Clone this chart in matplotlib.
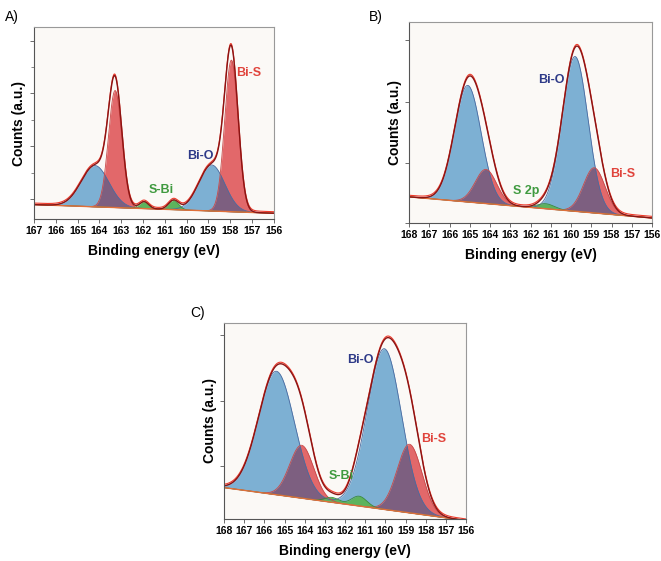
import numpy as np
from matplotlib import pyplot as plt

# peak parameters: centre (eV), height, FWHM (eV)
# panel A
a_xlim = (167, 156)
a_bg = (7.5, 3.0)            # background at left / right end
a_bios_c = [164.2, 158.85]; a_bios_h = [21.5, 24.0]; a_bios_w = [1.5, 1.4]
a_bis_c = [163.28, 157.95]; a_bis_h = [61.0, 79.0]; a_bis_w = [0.72, 0.72]
a_sbi_c = [161.95, 160.6]; a_sbi_h = [3.6, 4.8]; a_sbi_w = [0.5, 0.55]

# panel B
b_xlim = (168, 156)
b_bg = (13.0, 2.5)
b_bios_c = [165.1, 159.8]; b_bios_h = [58.0, 77.0]; b_bios_w = [1.55, 1.5]
b_bis_c = [164.2, 158.85]; b_bis_h = [17.0, 22.5]; b_bis_w = [1.25, 1.25]
b_sbi_c = [161.25]; b_sbi_h = [2.5]; b_sbi_w = [1.0]

# panel C
c_xlim = (168, 156)
c_bg = (16.0, -0.8)
c_bios_c = [165.4, 160.05]; c_bios_h = [63.0, 82.0]; c_bios_w = [2.1, 2.0]
c_bis_c = [164.15, 158.8]; c_bis_h = [27.0, 35.0]; c_bis_w = [1.4, 1.45]
c_sbi_c = [162.65, 161.3]; c_sbi_h = [2.5, 5.0]; c_sbi_w = [0.8, 0.9]

BLUE = '#7db0d3'
RED = '#e2686a'
PURP = '#7d5f80'
GREEN = '#5db35d'


def comp(x, cs, hs, ws):
    y = np.zeros_like(x)
    for c, h, w in zip(cs, hs, ws):
        s = w / 2.3548
        y += h * np.exp(-(x - c) ** 2 / (2 * s * s))
    return y


def panel(pos, xlim, bg, bios, bis, sbi, yticks, minor):
    ax = fig.add_axes(pos)
    x = np.linspace(xlim[0], xlim[1], 1200)
    base = bg[0] + (bg[1] - bg[0]) * (x - xlim[0]) / (xlim[1] - xlim[0])
    yb = comp(x, *bios)
    yr = comp(x, *bis)
    yg = comp(x, *sbi)
    ax.set_facecolor('#fbf9f6')
    ax.fill_between(x, base, base + yb, color=BLUE, lw=0)
    ax.fill_between(x, base, base + yr, color=RED, lw=0)
    ax.fill_between(x, base, base + np.minimum(yb, yr), color=PURP, lw=0)
    ax.fill_between(x, base, base + yg, color=GREEN, lw=0)
    ax.plot(x, base + yb, color='#4a6aa0', lw=0.6)
    ax.plot(x, base + yr, color='#c84848', lw=0.6)
    ax.plot(x, base + yg, color='#3a8a3a', lw=0.6)
    env = base + yb + yr + yg
    ax.plot(x, base, color='#e0703a', lw=1.0)
    ax.plot(x, env + 0.8, color='#ee3a2a', lw=0.8)
    ax.plot(x, env, color='#8a1414', lw=1.0)
    ax.set_xlim(xlim)
    ax.set_ylim(0, 100)
    ax.set_xticks(np.arange(xlim[1], xlim[0] + 1, 1))
    ax.set_xticklabels([str(v) for v in np.arange(xlim[1], xlim[0] + 1, 1)],
                       fontsize=7.5, fontweight='bold')
    ax.set_yticks(yticks)
    ax.set_yticklabels([])
    if minor:
        ax.set_yticks(minor, minor=True)
    ax.tick_params(axis='both', length=3, width=0.6, color='#555555', pad=2)
    ax.tick_params(axis='y', which='minor', length=2, width=0.5, color='#555555')
    for s in ax.spines.values():
        s.set_color('#999999')
        s.set_linewidth(0.8)
    ax.spines['left'].set_color('#555555')
    ax.spines['bottom'].set_color('#555555')
    ax.set_xlabel('Binding energy (eV)', fontsize=10, fontweight='bold', labelpad=6)
    ax.set_ylabel('Counts (a.u.)', fontsize=10, fontweight='bold', labelpad=0)
    return ax


plt.rcParams['font.family'] = ['Liberation Sans', 'DejaVu Sans']
fig = plt.figure(figsize=(6.61, 5.61), dpi=100)

axA = panel([0.0514, 0.6096, 0.363, 0.342], a_xlim, a_bg,
            (a_bios_c, a_bios_h, a_bios_w), (a_bis_c, a_bis_h, a_bis_w),
            (a_sbi_c, a_sbi_h, a_sbi_w),
            [10.4, 38, 65.6, 92.9], [24, 51.6, 79.3])
axB = panel([0.6188, 0.6025, 0.3676, 0.3583], b_xlim, b_bg,
            (b_bios_c, b_bios_h, b_bios_w), (b_bis_c, b_bis_h, b_bis_w),
            (b_sbi_c, b_sbi_h, b_sbi_w),
            [0, 29.9, 60.2, 91], None)
axC = panel([0.3389, 0.0749, 0.3661, 0.3494], c_xlim, c_bg,
            (c_bios_c, c_bios_h, c_bios_w), (c_bis_c, c_bis_h, c_bis_w),
            (c_sbi_c, c_sbi_h, c_sbi_w),
            [27.2, 60.4, 93.9], None)

# annotations
axA.text(157.75, 76, 'Bi-S', color='#e0443c', fontsize=9, fontweight='bold', va='center')
axA.text(159.35, 33, 'Bi-O', color='#2e3a88', fontsize=9, fontweight='bold', ha='center', va='center')
axA.text(161.15, 15, 'S-Bi', color='#3f9a3f', fontsize=9, fontweight='bold', ha='center', va='center')
axB.text(160.95, 71, 'Bi-O', color='#2e3a88', fontsize=9, fontweight='bold', ha='center', va='center')
axB.text(157.45, 24.5, 'Bi-S', color='#e0443c', fontsize=9, fontweight='bold', ha='center', va='center')
axB.text(162.2, 16, 'S 2p', color='#3f9a3f', fontsize=9, fontweight='bold', ha='center', va='center')
axC.text(161.25, 81, 'Bi-O', color='#2e3a88', fontsize=9, fontweight='bold', ha='center', va='center')
axC.text(157.6, 41, 'Bi-S', color='#e0443c', fontsize=9, fontweight='bold', ha='center', va='center')
axC.text(162.2, 22, 'S-Bi', color='#3f9a3f', fontsize=9, fontweight='bold', ha='center', va='center')

fig.text(0.008, 0.983, 'A)', fontsize=10, va='top')
fig.text(0.558, 0.983, 'B)', fontsize=10, va='top')
fig.text(0.288, 0.455, 'C)', fontsize=10, va='top')

fig.savefig('out.png', dpi=100)
